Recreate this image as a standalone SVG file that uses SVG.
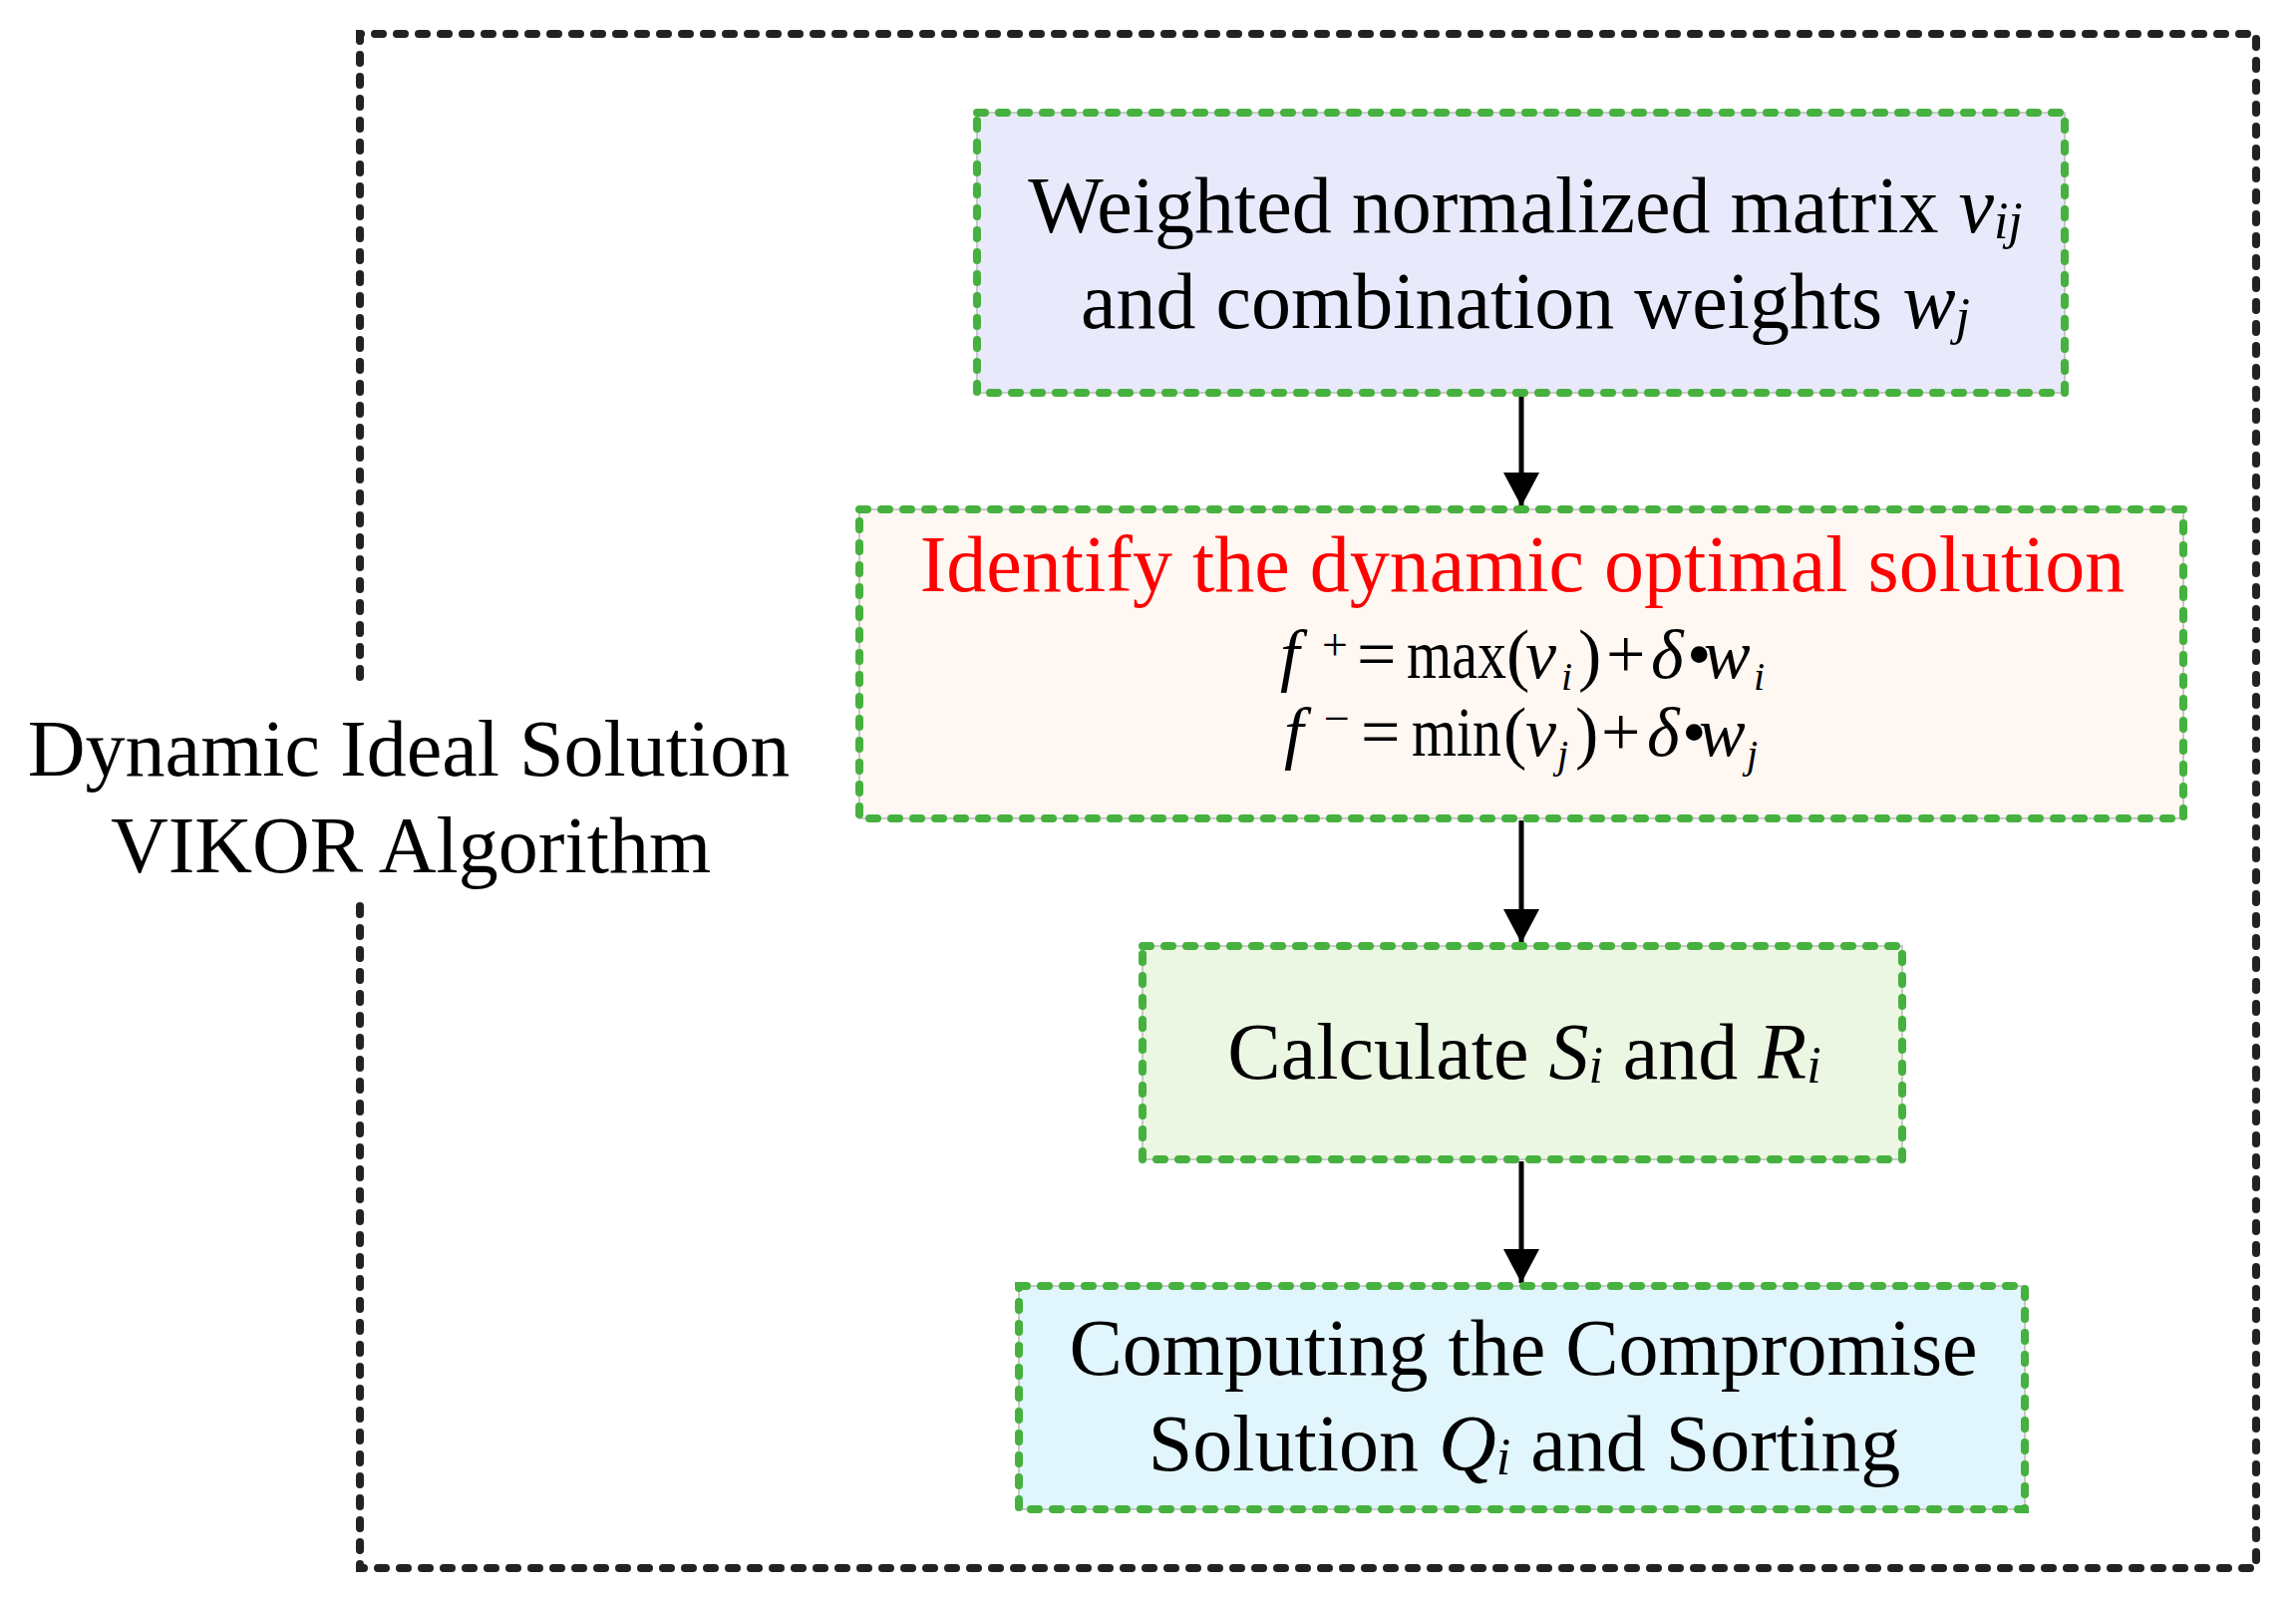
<svg xmlns="http://www.w3.org/2000/svg" width="2303" height="1605" viewBox="0 0 2303 1605">
  <style>
    .t { font-family: "Liberation Serif", "Times New Roman", serif; font-size: 80px; fill: #000; }
    .it { font-style: italic; }
    .m { font-family: "Liberation Serif", "Times New Roman", serif; font-size: 70px; fill: #000; }
    .sub { font-size: 40px; font-style: italic; }
    .sup { font-size: 46px; }
    .under { fill: none; stroke: #c8c8c8; stroke-width: 2; }
    .dash { fill: none; stroke: #46B13E; stroke-width: 8; stroke-dasharray: 8 14; stroke-linecap: round; }
    .conn { stroke: #000; stroke-width: 5; fill: none; }
  </style>
  <defs>
    <marker id="ah" markerUnits="userSpaceOnUse" viewBox="0 0 34 36" markerWidth="34" markerHeight="36" refX="34" refY="18" orient="auto">
      <path d="M0,0 L34,18 L0,36 Z" fill="#000"/>
    </marker>
  </defs>
  <rect width="2303" height="1605" fill="#fff"/>

  <g id="outer">
    <path d="M361,679 L361,34 L2263,34 L2263,1573 L361,1573 L361,908" fill="none" stroke="#222" stroke-width="8" stroke-dasharray="8 14" stroke-linecap="round"/>
    <text class="t" text-anchor="middle" x="410" y="778">Dynamic Ideal Solution</text>
    <text class="t" text-anchor="middle" x="412" y="875">VIKOR Algorithm</text>
  </g>

  <g id="connectors">
    <line class="conn" x1="1526" y1="396" x2="1526" y2="508" marker-end="url(#ah)"/>
    <line class="conn" x1="1526" y1="823" x2="1526" y2="946" marker-end="url(#ah)"/>
    <line class="conn" x1="1526" y1="1165" x2="1526" y2="1287" marker-end="url(#ah)"/>
  </g>

  <g id="node1">
    <rect x="980" y="113" width="1091" height="281" fill="#E8E9FB"/>
    <rect class="under" x="980" y="113" width="1091" height="281"/>
    <rect class="dash" x="980" y="113" width="1091" height="281"/>
    <text class="t" text-anchor="middle" x="1530" y="233">Weighted normalized matrix <tspan class="it">v</tspan><tspan class="it" font-size="52" dy="6">ij</tspan></text>
    <text class="t" text-anchor="middle" x="1530" y="329">and combination weights <tspan class="it">w</tspan><tspan class="it" font-size="52" dy="6">j</tspan></text>
  </g>

  <g id="node2">
    <rect x="862" y="511" width="1328" height="310" fill="#FEF7F2"/>
    <rect class="under" x="862" y="511" width="1328" height="310"/>
    <rect class="dash" x="862" y="511" width="1328" height="310"/>
    <text class="t" text-anchor="middle" x="1527" y="593" style="fill:#FF0000">Identify the dynamic optimal solution</text>
    <text class="m"><tspan class="it" x="1284" y="680">f</tspan><tspan class="sup" x="1326" y="662">+</tspan><tspan x="1361" y="680">=</tspan></text>
    <text class="m" x="1411" y="680" textLength="100" lengthAdjust="spacingAndGlyphs">max</text>
    <text class="m"><tspan x="1511" y="680">(</tspan><tspan class="it" x="1530" y="680">v</tspan><tspan class="sub" x="1566" y="692">i</tspan><tspan x="1583" y="680">)</tspan><tspan x="1611" y="680">+</tspan><tspan class="it" x="1656" y="680">δ</tspan><tspan x="1692" y="680">•</tspan><tspan class="it" x="1709" y="680">w</tspan><tspan class="sub" x="1759" y="692">i</tspan></text>
    <text class="m"><tspan class="it" x="1288" y="758">f</tspan><tspan class="sup" x="1328" y="736">−</tspan><tspan x="1365" y="758">=</tspan></text>
    <text class="m" x="1416" y="758" textLength="90" lengthAdjust="spacingAndGlyphs">min</text>
    <text class="m"><tspan x="1508" y="758">(</tspan><tspan class="it" x="1530" y="758">v</tspan><tspan class="sub" x="1562" y="770">j</tspan><tspan x="1580" y="758">)</tspan><tspan x="1606" y="758">+</tspan><tspan class="it" x="1652" y="758">δ</tspan><tspan x="1687" y="758">•</tspan><tspan class="it" x="1704" y="758">w</tspan><tspan class="sub" x="1752" y="770">j</tspan></text>
  </g>

  <g id="node3">
    <rect x="1146" y="949" width="762" height="214" fill="#EBF7E2"/>
    <rect class="under" x="1146" y="949" width="762" height="214"/>
    <rect class="dash" x="1146" y="949" width="762" height="214"/>
    <text class="t" text-anchor="middle" x="1529" y="1082">Calculate <tspan class="it">S</tspan><tspan class="it" font-size="52" dy="4">i</tspan><tspan dy="-4"> and </tspan><tspan class="it">R</tspan><tspan class="it" font-size="52" dy="4">i</tspan></text>
  </g>

  <g id="node4">
    <rect x="1022" y="1290" width="1009" height="224" fill="#E1F5FC"/>
    <rect class="under" x="1022" y="1290" width="1009" height="224"/>
    <rect class="dash" x="1022" y="1290" width="1009" height="224"/>
    <text class="t" text-anchor="middle" x="1528" y="1379">Computing the Compromise</text>
    <text class="t" text-anchor="middle" x="1529" y="1475">Solution <tspan class="it">Q</tspan><tspan class="it" font-size="52" dy="4">i</tspan><tspan dy="-4"> and Sorting</tspan></text>
  </g>
</svg>
